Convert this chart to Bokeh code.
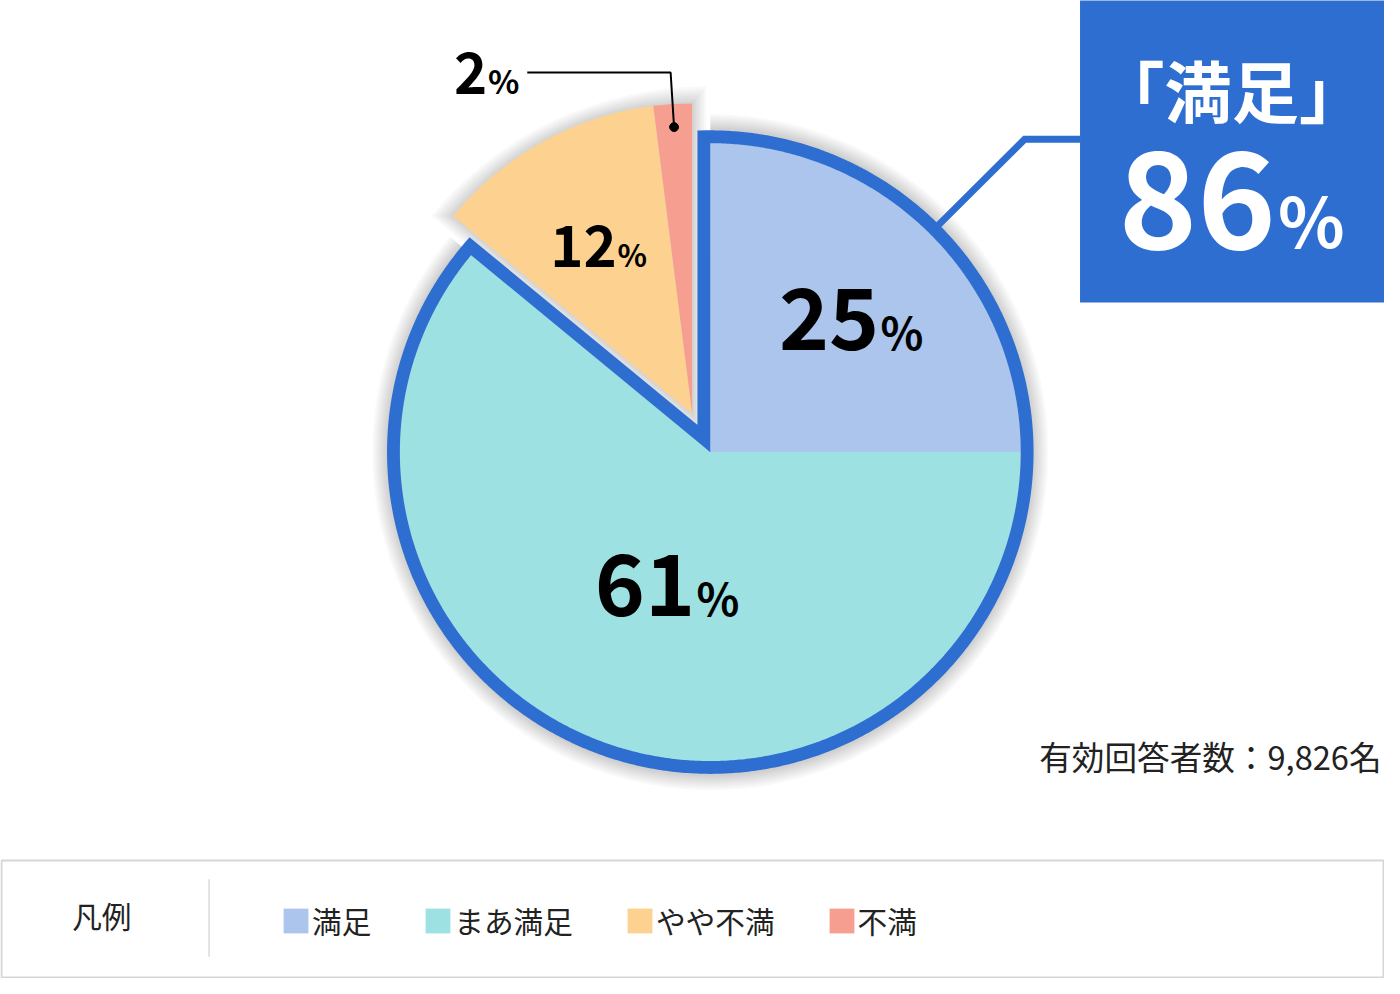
import numpy as np
from bokeh.plotting import figure
from bokeh.models import Range1d, ColumnDataSource, Legend, LegendItem
from bokeh.core.properties import value
from bokeh.embed import file_html
from bokeh.resources import INLINE

# ---------------- data ----------------
categories = ["満足", "まあ満足", "やや不満", "不満"]
shares = [25, 61, 12, 2]
slice_colors = ["#ABC5EC", "#9DE1E2", "#FDD18F", "#F69F90"]
satisfied = [True, True, False, False]
summary_title = "「満足」"
respondents_text = "有効回答者数：9,826名"
legend_title = "凡例"

# ---------------- layout / style ----------------
W, H = 1384, 978            # figure size (fits the window with 8px margin)
RW, RH = 1400, 994          # design space
S = W / RW                  # screen px per design unit


def Y(v):
    return RH - v


def px(v):
    return f"{v * S:.2f}px"


FONT = "Noto Sans CJK JP"
BLUE = "#2E6ED1"
TXT = "#222222"

p = figure(width=W, height=H, x_range=Range1d(0, RW), y_range=Range1d(0, RH),
           output_backend="svg", toolbar_location=None, min_border=0,
           x_axis_location=None, y_axis_location=None)
p.grid.visible = False
p.outline_line_color = None
p.background_fill_color = "white"


def txt(x, y, s, fs, align="left", bold=False, color="black"):
    p.text(x=[x], y=[Y(y)], text=[s], text_font=value(FONT),
           text_font_style="bold" if bold else "normal", text_font_size=value(px(fs)),
           text_color=color, text_align=align, text_baseline="alphabetic")


def pct_label(cx, cy, number, fs, fs_pct, color="black"):
    num_w = 0.54 * fs * len(number)
    pct_w = 0.9 * fs_pct
    gap = 0.05 * fs
    left = cx - (num_w + gap + pct_w) / 2
    num_right = left + num_w
    pct_left = num_right + gap
    bottom = cy + 0.366 * fs
    pct_cy = bottom - 0.87 * fs_pct / 2
    txt(num_right + 0.035 * fs, cy, number, fs, "right", True, color)
    txt(pct_left, pct_cy, "%", fs_pct, "left", True, color)


CX, CY = 718.0, Y(459)
R = 314.0
EXPLODE = 43.0
RING = 13.0

frac = np.array(shares, dtype=float) / 100.0
cum = np.concatenate([[0.0], np.cumsum(frac)])
top = np.pi / 2
end_ang = top - 2 * np.pi * cum[:-1]
start_ang = top - 2 * np.pi * cum[1:]
mid_ang = (start_ang + end_ang) / 2

sat = np.array(satisfied)
sat_share = frac[sat].sum()
g_start = top - 2 * np.pi * sat_share
g_end = top
gap_half = np.pi * (1 - sat_share)
gap_bis = top + gap_half
EX, EY = CX + EXPLODE * np.cos(gap_bis), CY + EXPLODE * np.sin(gap_bis)
xs = np.where(sat, CX, EX)
ys = np.where(sat, CY, EY)

# ---- soft shadows ----
for k in range(1, 9):
    p.wedge(x=CX, y=CY, radius=R + RING + 2 * k - 1, start_angle=g_start, end_angle=g_end,
            fill_color="black", fill_alpha=0.022, line_color=None)
for k in range(1, 8):
    kk = 2 * k
    sh = kk / np.sin(gap_half)
    p.wedge(x=EX - sh * np.cos(gap_bis), y=EY - sh * np.sin(gap_bis), radius=R + sh + kk,
            start_angle=top, end_angle=top + 2 * gap_half,
            fill_color="black", fill_alpha=0.022, line_color=None)

# ---- connector to summary box ----
d = RING / 2
Ro = R + d
conn_ang = np.pi / 4
c0x, c0y = CX + Ro * np.cos(conn_ang), CY + Ro * np.sin(conn_ang)
elbow_y = Y(141)
c1x = c0x + (elbow_y - c0y) / np.tan(conn_ang)
BOX_LEFT, BOX_BOTTOM = 1092, Y(307)
p.line([c0x, c1x, BOX_LEFT], [c0y, elbow_y, elbow_y], line_color=BLUE, line_width=7 * S,
       line_join="miter")

# ---- slices ----
src = ColumnDataSource(dict(x=xs, y=ys, start=start_ang, end=end_ang,
                            color=slice_colors, label=categories))
wr = p.wedge(x="x", y="y", radius=R, start_angle="start", end_angle="end",
             fill_color="color", line_color=None, source=src)

# ---- outline of the satisfied group ----
apex_r = d / np.sin(gap_half)
apx, apy = CX + apex_r * np.cos(gap_bis), CY + apex_r * np.sin(gap_bis)
delta = np.arcsin(d / Ro)
t = np.linspace(g_start - delta, g_end + delta, 720)
ox = np.concatenate([[apx], CX + Ro * np.cos(t)])
oy = np.concatenate([[apy], CY + Ro * np.sin(t)])
p.patch(ox, oy, fill_alpha=0, line_color=BLUE, line_width=RING * S, line_join="miter")

# ---- summary box ----
p.quad(left=BOX_LEFT, right=RW + 20, bottom=BOX_BOTTOM, top=RH + 20,
       fill_color=BLUE, line_color=None)
summary_share = int(round(sum(s for s, f in zip(shares, satisfied) if f)))
txt(1245.5, 93.5 - 0.06 * 68, summary_title, 68, "center", True, "white")
pct_label(1247.5, 202.6, str(summary_share), 135, 70, "white")

# ---- slice labels ----
LABEL_R = [0.63, 0.455, 0.62, 0.93]
LABEL_NUDGE = [(4, 4), (6, 0), (0, 0), (0, 0)]   # (dx, dy) in design px, y downwards
for i, s in enumerate(shares):
    if frac[i] >= 0.05:
        fs, fsp = (86, 45) if frac[i] >= 0.2 else (57, 31)
        lx = xs[i] + LABEL_R[i] * R * np.cos(mid_ang[i]) + LABEL_NUDGE[i][0]
        ly = Y(ys[i] + LABEL_R[i] * R * np.sin(mid_ang[i])) + LABEL_NUDGE[i][1]
        pct_label(lx, ly, str(s), fs, fsp)
    else:
        fs, fsp = 57, 33
        dx_ = xs[i] + LABEL_R[i] * R * np.cos(mid_ang[i])
        dy_ = ys[i] + LABEL_R[i] * R * np.sin(mid_ang[i])
        re = 1.107 * R
        ex_ = xs[i] + re * np.cos(mid_ang[i])
        ey_ = ys[i] + re * np.sin(mid_ang[i])
        end_x = ex_ - 145
        p.line([dx_, ex_, end_x], [dy_, ey_, ey_], line_color="black", line_width=2 * S)
        p.scatter([dx_], [dy_], size=9 * S, color="black")
        wt = 0.54 * fs * len(str(s)) + 0.05 * fs + 0.9 * fsp
        pct_label(end_x - 10 - wt / 2, Y(ey_) + 1, str(s), fs, fsp)

# ---- respondents ----
txt(1397, 771 - 0.12 * 33, respondents_text, 33, "right", False, TXT)

# ---- legend frame ----
p.quad(left=1, right=RW - 1, bottom=Y(993), top=Y(874), fill_color=None,
       line_color="#D6D6D6", line_width=2 * S)
p.segment(x0=[211], y0=[Y(893)], x1=[211], y1=[Y(972)], line_color="#DADADA",
          line_width=1.5 * S)
txt(102.5, 934 - 0.12 * 30, legend_title, 30, "center", False, TXT)

legend = Legend(items=[LegendItem(label=c, renderers=[wr], index=i) for i, c in enumerate(categories)],
                orientation="horizontal", location=(280, 36), glyph_width=31, glyph_height=31,
                label_standoff=1, spacing=51, padding=0, margin=0, border_line_color=None,
                background_fill_alpha=0, label_text_font=FONT, label_text_font_size=px(30),
                label_text_color=TXT, label_height=31)
p.add_layout(legend)

open("out.html", "w").write(file_html(p, INLINE))
